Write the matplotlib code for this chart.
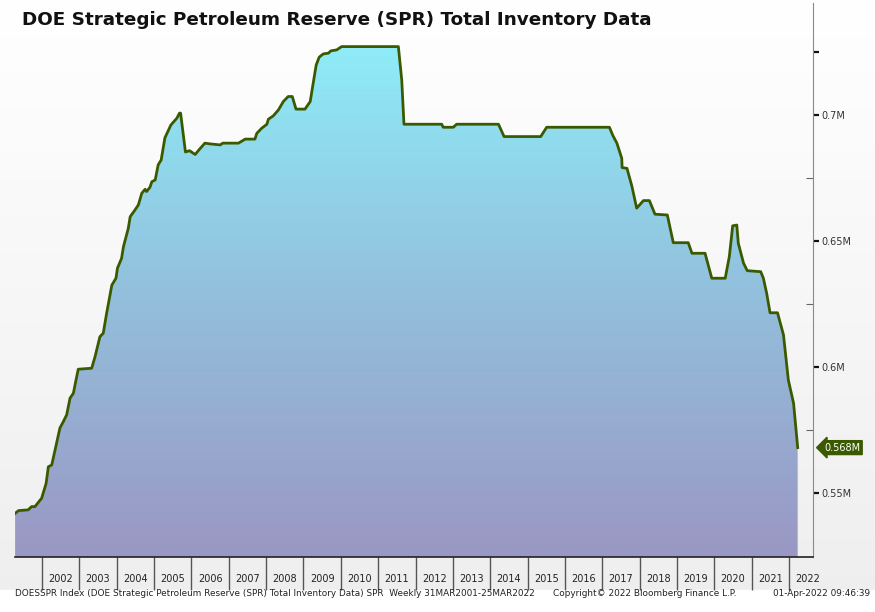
import matplotlib
matplotlib.use('Agg')
import matplotlib.pyplot as plt
import numpy as np
from matplotlib.colors import LinearSegmentedColormap
from matplotlib.patches import Rectangle
from matplotlib.ticker import FixedLocator, NullFormatter

# weekly SPR inventory (decimal year, million barrels)
years = [2001.28, 2001.37, 2001.63, 2001.72, 2001.81, 2001.99, 2002.11, 2002.17,
         2002.26, 2002.35, 2002.48, 2002.57, 2002.66, 2002.75, 2002.84, 2002.91,
         2002.97, 2003.33, 2003.42, 2003.55, 2003.64, 2003.73, 2003.87, 2003.98,
         2004.02, 2004.13, 2004.18, 2004.31, 2004.36, 2004.49, 2004.58, 2004.67,
         2004.76, 2004.80, 2004.89, 2004.94, 2005.03, 2005.11, 2005.19, 2005.29,
         2005.45, 2005.61, 2005.68, 2005.71, 2005.84, 2005.95, 2006.10, 2006.20,
         2006.36, 2006.50, 2006.77, 2006.84, 2007.26, 2007.44, 2007.70, 2007.75,
         2007.88, 2008.02, 2008.06, 2008.19, 2008.33, 2008.46, 2008.59, 2008.70,
         2008.80, 2009.04, 2009.18, 2009.26, 2009.34, 2009.42, 2009.53, 2009.67,
         2009.73, 2009.89, 2010.02, 2011.54, 2011.63, 2011.69, 2012.70, 2012.74,
         2013.01, 2013.10, 2014.22, 2014.37, 2015.35, 2015.51, 2017.19, 2017.28,
         2017.39, 2017.52, 2017.53, 2017.66, 2017.79, 2017.92, 2018.10, 2018.26,
         2018.41, 2018.74, 2018.90, 2019.30, 2019.40, 2019.75, 2019.93, 2020.29,
         2020.40, 2020.49, 2020.60, 2020.64, 2020.78, 2020.88, 2021.24, 2021.31,
         2021.40, 2021.49, 2021.69, 2021.85, 2021.98, 2022.12, 2022.23]
inventory = [541.9, 543.0, 543.3, 544.6, 544.6, 547.9, 553.8, 560.4,
             561.1, 567.1, 575.8, 578.3, 581.0, 587.6, 589.6, 594.8,
             599.1, 599.5, 604.1, 612.0, 613.4, 621.3, 632.5, 635.2,
             639.2, 643.1, 647.7, 655.0, 659.6, 662.3, 664.3, 668.9,
             670.5, 669.6, 671.3, 673.5, 674.2, 680.2, 682.1, 690.9,
             696.0, 698.7, 700.7, 700.7, 685.3, 685.8, 684.3, 686.1,
             688.8, 688.5, 688.1, 688.8, 688.8, 690.4, 690.4, 692.7,
             694.7, 696.3, 698.3, 699.6, 702.0, 705.3, 707.3, 707.3,
             702.3, 702.3, 705.3, 712.6, 719.8, 722.9, 724.2, 724.5,
             725.4, 725.8, 727.1, 727.1, 713.9, 696.3, 696.3, 695.1,
             695.1, 696.3, 696.3, 691.4, 691.4, 695.1, 695.1, 691.9,
             688.8, 682.8, 679.1, 678.8, 671.8, 663.0, 666.0, 666.0,
             660.6, 660.3, 649.3, 649.3, 645.1, 645.1, 635.2, 635.2,
             643.8, 656.0, 656.3, 649.1, 641.2, 638.2, 637.8, 635.3,
             629.2, 621.5, 621.5, 612.7, 594.8, 585.6, 568.0]

year_labels = [str(y) for y in range(2002, 2023)]
major_y = [550, 600, 650, 700, 725]
major_y_labels = ['0.55M', '0.6M', '0.65M', '0.7M', '']
minor_y = [575, 625, 675]

title = 'DOE Strategic Petroleum Reserve (SPR) Total Inventory Data'
footer_left = ('DOESSPR Index (DOE Strategic Petroleum Reserve (SPR) Total Inventory Data) SPR  '
               'Weekly 31MAR2001-25MAR2022')
footer_mid = 'Copyright\u00a9 2022 Bloomberg Finance L.P.'
footer_right = '01-Apr-2022 09:46:39'

font = 'DejaVu Sans'
line_color = '#3b5a00'

fig = plt.figure(figsize=(8.75, 6.12), dpi=100)

# light grey background gradient behind everything
bg = fig.add_axes([0, 0, 1, 1], zorder=-10)
bg_cmap = LinearSegmentedColormap.from_list('bg', ['#eeeeee', '#ffffff'])
bg.imshow(np.linspace(0, 1, 256).reshape(-1, 1), cmap=bg_cmap, origin='lower',
          aspect='auto', extent=[0, 1, 0, 1])
bg.add_patch(Rectangle((0, 0), 1, 22 / 612, color='white'))
bg.set_xlim(0, 1)
bg.set_ylim(0, 1)
bg.axis('off')

ax = fig.add_axes([15 / 875, 55 / 612, 798 / 875, 554 / 612])
ax.patch.set_alpha(0)

x0, x1 = 2001.277, 2022.64
y0, y1 = 524.6, 744.4

# gradient fill under the line
poly = ax.fill_between(years, inventory, y0, color='none', lw=0)
fill_cmap = LinearSegmentedColormap.from_list('fill', ['#9a97c3', '#93bfdc', '#8eedf8'])
img = ax.imshow(np.linspace(0, 1, 256).reshape(-1, 1), cmap=fill_cmap, origin='lower',
                aspect='auto', extent=[x0, x1, y0, 730], zorder=1)
img.set_clip_path(poly.get_paths()[0], transform=ax.transData)

ax.plot(years, inventory, color=line_color, lw=2.0, solid_joinstyle='round', zorder=3)

ax.set_xlim(x0, x1)
ax.set_ylim(y0, y1)

for s in ['top', 'left']:
    ax.spines[s].set_visible(False)
ax.spines['right'].set_color('#8a8a8a')
ax.spines['bottom'].set_color('#222222')
ax.spines['bottom'].set_linewidth(1.2)

# y axis on the right
ax.yaxis.tick_right()
ax.yaxis.set_major_locator(FixedLocator(major_y))
ax.yaxis.set_minor_locator(FixedLocator(minor_y))
ax.set_yticklabels(major_y_labels, family=font, fontsize=7, color='#333333')
ax.tick_params(axis='y', which='major', direction='out', length=4, width=1.6,
               color='#111111', pad=2)
ax.tick_params(axis='y', which='minor', direction='in', length=5, width=0.8,
               color='#666666')

# x axis: year separators as long ticks, labels centred in each year
ax.xaxis.set_major_locator(FixedLocator(range(2002, 2023)))
ax.xaxis.set_major_formatter(NullFormatter())
ax.xaxis.set_minor_locator(FixedLocator([y + 0.5 for y in range(2002, 2023)]))
ax.set_xticklabels(year_labels, minor=True, family=font, fontsize=7, color='#222222')
ax.tick_params(axis='x', which='major', direction='out', length=24, width=1.0,
               color='#555555')
ax.tick_params(axis='x', which='minor', length=0, pad=12)

# last value tag
ax.annotate(f'{inventory[-1] / 1000:.3f}M', xy=(1, inventory[-1]),
            xycoords=('axes fraction', 'data'), xytext=(8, 0), textcoords='offset points',
            va='center', ha='left', fontsize=7, family=font, color='white',
            bbox=dict(boxstyle='larrow,pad=0.2', fc=line_color, ec=line_color),
            annotation_clip=False)

fig.text(22 / 875, 1 - 20 / 612, title, family=font, fontweight='bold', fontsize=13.2,
         va='center', ha='left', color='#111111')

fig.text(15 / 875, 1 - 593 / 612, footer_left, family=font, fontsize=6.4, va='center',
         ha='left', color='#222222')
fig.text(553 / 875, 1 - 593 / 612, footer_mid, family=font, fontsize=6.4, va='center',
         ha='left', color='#222222')
fig.text(870 / 875, 1 - 593 / 612, footer_right, family=font, fontsize=6.4, va='center',
         ha='right', color='#222222')

fig.savefig('out.png', dpi=100)
